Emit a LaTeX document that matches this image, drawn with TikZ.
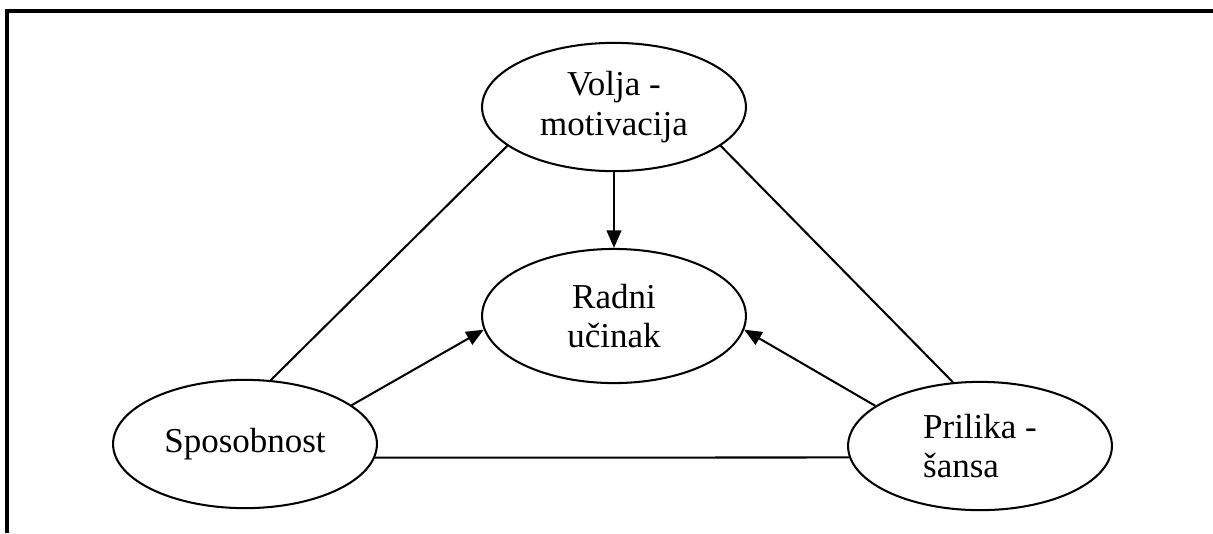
\documentclass[tikz,border=0pt]{standalone}
\usepackage{fontspec}
\setmainfont{Liberation Serif}
\usetikzlibrary{shapes.geometric, arrows.meta}
\begin{document}
\begin{tikzpicture}[x=0.343pt, y=-0.343pt]
    \tikzstyle{factor} = [draw, ellipse, line width=0.7pt, inner sep=0pt, minimum width=90.5pt, minimum height=44pt, align=center, font=\fontsize{12}{13.5}\selectfont]
    \tikzstyle{link} = [line width=0.7pt]
    \tikzstyle{effect} = [link, -{Triangle[length=6pt, width=5pt]}]
    \tikzstyle{frame} = [line width=1.4pt]
    \useasboundingbox (0, 0) rectangle (1213, 533);
    \draw[frame] (7, 533) -- (7, 11) -- (1213, 11);
    \node[factor] (volja) at (614, 107) {Volja -\\motivacija};
    \node[factor, minimum height=46pt] (radni) at (614, 316) {Radni\\učinak};
    \node[factor] (spos) at (245, 444) {Sposobnost};
    \node[factor, align=left] (pril) at (980, 446) {Prilika -\\šansa};
    \draw[link] (spos.68) -- (volja.200);
    \draw[link] (volja.-20) -- (pril.113);
    \draw[link] (spos.-6) -- (pril.185);
    \draw[effect] (volja.south) -- (radni.north);
    \draw[effect] (spos.20) -- (radni.186);
    \draw[effect] (pril.159) -- (radni.-6);
\end{tikzpicture}
\end{document}
